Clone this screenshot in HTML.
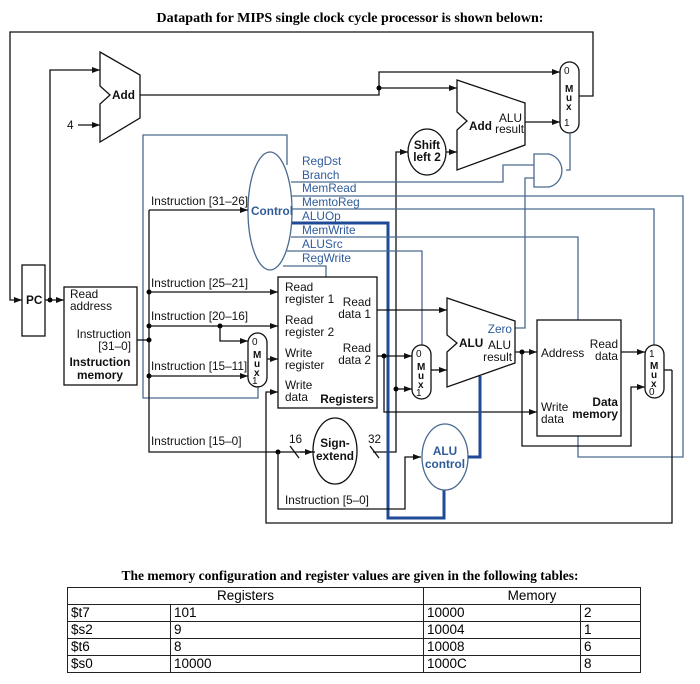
<!DOCTYPE html>
<html><head><meta charset="utf-8"><style>
body{margin:0;background:#fff;}
svg{display:block;font-family:"Liberation Sans",sans-serif;}
.k{stroke:#111;stroke-width:1.3;fill:none;}
.b{stroke:#4a6a90;stroke-width:1.3;fill:none;}
.bt{stroke:#1f4a96;stroke-width:3;fill:none;}
.t{font-size:11.8px;fill:#111;}
.tb{font-size:11.8px;fill:#111;font-weight:bold;}
.bl{font-size:11.8px;fill:#2f5b9a;}
td{border:1px solid #222;padding:0 3px;height:16px;font-size:13.5px;line-height:16px;}
</style></head><body>
<svg width="700" height="684" viewBox="0 0 700 684">
<defs><marker id="a" markerWidth="8" markerHeight="6" refX="8" refY="3" orient="auto" markerUnits="userSpaceOnUse"><path d="M0,0L8,3L0,6z" fill="#111"/></marker></defs>
<text x="350" y="22" text-anchor="middle" style="font-family:'Liberation Serif',serif;font-weight:bold;font-size:14px">Datapath for MIPS single clock cycle processor is shown belown:</text>

<path class="k" d="M579,96H593V32H10V300H22" marker-end="url(#a)"/>
<rect x="22" y="265" width="23" height="71" class="k"/>
<text x="26" y="304" class="tb">PC</text>
<path class="k" d="M45,300H64" marker-end="url(#a)"/>
<circle cx="50" cy="300" r="2.5"/>
<path class="k" d="M50,300V70H100" marker-end="url(#a)"/>
<text x="67" y="129" class="t">4</text>
<path class="k" d="M78,125H100" marker-end="url(#a)"/>
<path class="k" d="M100,52L140,75V118L100,142V104L110,95L100,86Z"/>
<text x="112" y="99" class="tb">Add</text>
<path class="k" d="M140,95H379V72H560" marker-end="url(#a)"/>
<circle cx="379" cy="88" r="2.5"/>
<path class="k" d="M379,88H457" marker-end="url(#a)"/>
<rect x="560" y="62" width="19" height="71" rx="9.5" class="k"/>
<text x="564" y="74" class="t" style="font-size:10px">0</text>
<text x="565" y="92" class="tb" style="font-size:10px">M</text>
<text x="566" y="101" class="tb" style="font-size:10px">u</text>
<text x="566" y="110" class="tb" style="font-size:10px">x</text>
<text x="564" y="126" class="t" style="font-size:10px">1</text>
<path class="k" d="M457,80L525,103V145L457,170V130L467,121L457,112Z"/>
<text x="469" y="130" class="tb">Add</text>
<text x="522" y="122" class="t" text-anchor="end">ALU</text>
<text x="524" y="133" class="t" text-anchor="end">result</text>
<path class="k" d="M525,122H560" marker-end="url(#a)"/>
<ellipse cx="427" cy="152" rx="19" ry="23" class="k"/>
<text x="427" y="149" class="tb" text-anchor="middle">Shift</text>
<text x="427" y="161" class="tb" text-anchor="middle">left 2</text>
<path class="k" d="M446,152H457" marker-end="url(#a)"/>
<path class="k" d="M373,452H396V152H408" marker-end="url(#a)"/>
<circle cx="396" cy="389" r="2.5"/>
<path class="k" d="M396,389H412" marker-end="url(#a)"/>
<path class="b" d="M534,154H549A17,17 0 0 1 549,187H534Z"/>
<path class="b" d="M566,170H570V133"/>
<path class="b" d="M291,182H503V165H534"/>
<path class="b" d="M515,328H525V178H534"/>
<ellipse cx="270" cy="211" rx="22" ry="59" fill="none" stroke="#4a6a90" stroke-width="1.3"/>
<text x="272" y="215" class="bl" text-anchor="middle" style="font-weight:bold">Control</text>
<path class="b" d="M287,165V135H143V398H258V386"/>
<text x="302" y="165" class="bl">RegDst</text>
<text x="302" y="179" class="bl">Branch</text>
<text x="302" y="192" class="bl">MemRead</text>
<text x="302" y="206" class="bl">MemtoReg</text>
<text x="302" y="220" class="bl">ALUOp</text>
<text x="302" y="234" class="bl">MemWrite</text>
<text x="302" y="248" class="bl">ALUSrc</text>
<text x="302" y="262" class="bl">RegWrite</text>
<path class="b" d="M291,196H683V457H578V436"/>
<path class="b" d="M292,209H654V345"/>
<path class="bt" d="M292,223H388V518H444V490"/>
<path class="b" d="M291,237H578V320"/>
<path class="b" d="M287,251H422V345"/>
<path class="b" d="M283,266H326V277"/>
<rect x="64" y="287" width="73" height="98" class="k"/>
<text x="70" y="298" class="t">Read</text>
<text x="70" y="310" class="t">address</text>
<text x="131" y="338" class="t" text-anchor="end">Instruction</text>
<text x="131" y="350" class="t" text-anchor="end">[31–0]</text>
<text x="100" y="366" class="tb" text-anchor="middle">Instruction</text>
<text x="100" y="379" class="tb" text-anchor="middle">memory</text>
<path class="k" d="M137,340H149"/>
<path class="k" d="M149,210V452H315"/>
<circle cx="149" cy="340" r="2.5"/>
<path class="k" d="M149,210H248" marker-end="url(#a)"/>
<text x="151" y="205" class="t">Instruction [31–26]</text>
<circle cx="149" cy="292" r="2.5"/>
<path class="k" d="M149,292H278" marker-end="url(#a)"/>
<text x="151" y="287" class="t">Instruction [25–21]</text>
<circle cx="149" cy="326" r="2.5"/>
<path class="k" d="M149,326H278" marker-end="url(#a)"/>
<text x="151" y="320" class="t">Instruction [20–16]</text>
<circle cx="220" cy="326" r="2.5"/>
<path class="k" d="M220,326V341H248" marker-end="url(#a)"/>
<circle cx="149" cy="376" r="2.5"/>
<path class="k" d="M149,376H248" marker-end="url(#a)"/>
<text x="151" y="370" class="t">Instruction [15–11]</text>
<text x="151" y="445" class="t">Instruction [15–0]</text>
<rect x="248" y="333" width="19" height="54" rx="9.5" class="k"/>
<text x="252" y="345" class="t" style="font-size:10px">0</text>
<text x="253" y="358" class="tb" style="font-size:10px">M</text>
<text x="254" y="367" class="tb" style="font-size:10px">u</text>
<text x="254" y="376" class="tb" style="font-size:10px">x</text>
<text x="252" y="384" class="t" style="font-size:10px">1</text>
<path class="k" d="M267,359H278" marker-end="url(#a)"/>
<rect x="278" y="277" width="99" height="131" class="k"/>
<text x="285" y="291" class="t">Read</text>
<text x="285" y="303" class="t">register 1</text>
<text x="285" y="324" class="t">Read</text>
<text x="285" y="336" class="t">register 2</text>
<text x="285" y="357" class="t">Write</text>
<text x="285" y="369" class="t">register</text>
<text x="285" y="389" class="t">Write</text>
<text x="285" y="401" class="t">data</text>
<text x="374" y="403" class="tb" text-anchor="end">Registers</text>
<text x="371" y="306" class="t" text-anchor="end">Read</text>
<text x="371" y="318" class="t" text-anchor="end">data 1</text>
<text x="371" y="352" class="t" text-anchor="end">Read</text>
<text x="371" y="364" class="t" text-anchor="end">data 2</text>
<path class="k" d="M377,310H447" marker-end="url(#a)"/>
<path class="k" d="M377,356H412" marker-end="url(#a)"/>
<circle cx="384" cy="356" r="2.5"/>
<path class="k" d="M384,356V412H537" marker-end="url(#a)"/>
<path class="k" d="M672,370V523H266V392H278" marker-end="url(#a)"/>
<ellipse cx="335" cy="451" rx="22" ry="33" class="k"/>
<text x="335" y="447" class="tb" text-anchor="middle">Sign-</text>
<text x="335" y="460" class="tb" text-anchor="middle">extend</text>
<path class="k" d="M300,452H313" marker-end="url(#a)"/>
<path class="k" d="M290,446L299,458M370,446L379,458"/>
<text x="289" y="443" class="t">16</text>
<text x="368" y="443" class="t">32</text>
<circle cx="278" cy="452" r="2.5"/>
<path class="k" d="M278,452V509H405V457H421" marker-end="url(#a)"/>
<text x="285" y="504" class="t">Instruction [5–0]</text>
<ellipse cx="445" cy="457" rx="23" ry="33" fill="none" stroke="#4a6a90" stroke-width="1.3"/>
<text x="445" y="455" class="bl" text-anchor="middle" style="font-weight:bold">ALU</text>
<text x="445" y="468" class="bl" text-anchor="middle" style="font-weight:bold">control</text>
<path class="bt" d="M468,457H480V376"/>
<rect x="412" y="345" width="19" height="54" rx="9.5" class="k"/>
<text x="416" y="357" class="t" style="font-size:10px">0</text>
<text x="417" y="370" class="tb" style="font-size:10px">M</text>
<text x="418" y="379" class="tb" style="font-size:10px">u</text>
<text x="418" y="388" class="tb" style="font-size:10px">x</text>
<text x="416" y="396" class="t" style="font-size:10px">1</text>
<path class="k" d="M431,370H447" marker-end="url(#a)"/>
<path class="k" d="M447,298L515,321V363L447,387V352L457,343L447,335Z"/>
<text x="459" y="347" class="tb">ALU</text>
<text x="512" y="333" class="bl" text-anchor="end">Zero</text>
<text x="511" y="349" class="t" text-anchor="end">ALU</text>
<text x="512" y="361" class="t" text-anchor="end">result</text>
<path class="k" d="M515,352H537" marker-end="url(#a)"/>
<circle cx="522" cy="352" r="2.5"/>
<path class="k" d="M522,352V446H631V387H645" marker-end="url(#a)"/>
<rect x="537" y="320" width="84" height="116" class="k"/>
<text x="541" y="357" class="t">Address</text>
<text x="618" y="348" class="t" text-anchor="end">Read</text>
<text x="618" y="360" class="t" text-anchor="end">data</text>
<text x="541" y="411" class="t">Write</text>
<text x="541" y="423" class="t">data</text>
<text x="618" y="406" class="tb" text-anchor="end">Data</text>
<text x="618" y="418" class="tb" text-anchor="end">memory</text>
<path class="k" d="M621,352H645" marker-end="url(#a)"/>
<rect x="645" y="345" width="19" height="53" rx="9.5" class="k"/>
<text x="649" y="357" class="t" style="font-size:10px">1</text>
<text x="650" y="369" class="tb" style="font-size:10px">M</text>
<text x="651" y="378" class="tb" style="font-size:10px">u</text>
<text x="651" y="387" class="tb" style="font-size:10px">x</text>
<text x="649" y="395" class="t" style="font-size:10px">0</text>
<path class="k" d="M664,370H672"/>
<text x="350" y="580" text-anchor="middle" style="font-family:'Liberation Serif',serif;font-weight:bold;font-size:13.5px">The memory configuration and register values are given in the following tables:</text>
</svg>
<table style="position:absolute;left:67px;top:587px;width:574px;border-collapse:collapse;font-family:'Liberation Sans',sans-serif;">
<tr><td colspan="2" style="text-align:center">Registers</td><td colspan="2" style="text-align:center">Memory</td></tr>
<tr><td style="width:96px">$t7</td><td style="width:246px">101</td><td style="width:150px">10000</td><td>2</td></tr>
<tr><td>$s2</td><td>9</td><td>10004</td><td>1</td></tr>
<tr><td>$t6</td><td>8</td><td>10008</td><td>6</td></tr>
<tr><td>$s0</td><td>10000</td><td>1000C</td><td>8</td></tr>
</table>
</body></html>
